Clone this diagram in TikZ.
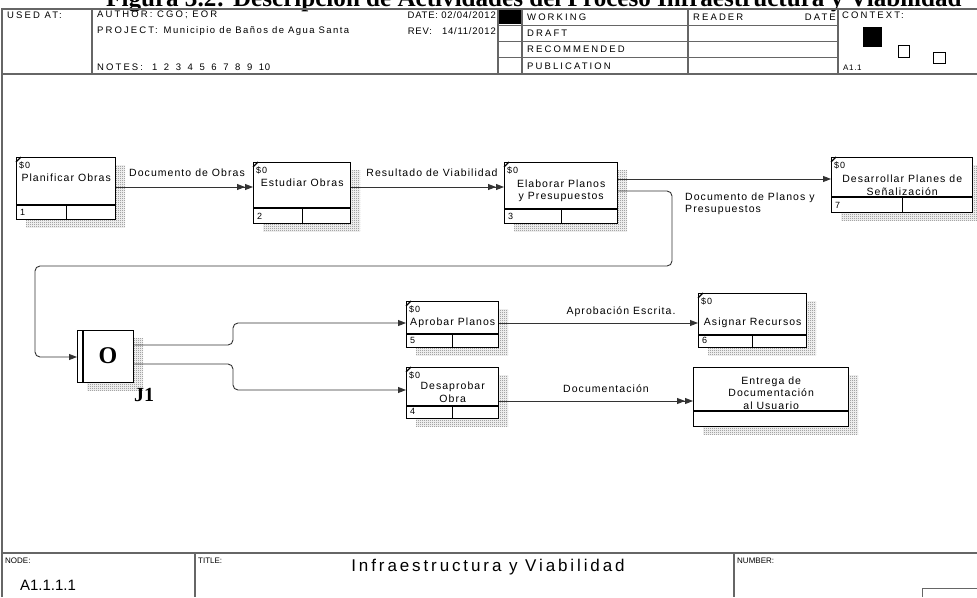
\documentclass[tikz,border=0pt]{standalone}
\usepackage{fontspec}
\setmainfont{Liberation Sans}
\newfontfamily\hdrfam{Liberation Sans}[LetterSpace=22]
\newfontfamily\hdrlow{Liberation Sans}[LetterSpace=15]
\newfontfamily\hdrnum{Liberation Sans}[LetterSpace=8]
\newfontfamily\boxfam{Liberation Sans}[LetterSpace=10]
\newfontfamily\titlefam{Liberation Sans}[LetterSpace=17]
\newfontfamily\serifbold{Liberation Serif Bold}
\usetikzlibrary{arrows.meta,patterns}

% fine 1pt checker used for the box shadows
\pgfdeclarepatternformonly{checker}{\pgfqpoint{0pt}{0pt}}{\pgfqpoint{2pt}{2pt}}{\pgfqpoint{2pt}{2pt}}{%
  \pgfpathrectangle{\pgfqpoint{0pt}{0pt}}{\pgfqpoint{1pt}{1pt}}%
  \pgfpathrectangle{\pgfqpoint{1pt}{1pt}}{\pgfqpoint{1pt}{1pt}}%
  \pgfusepath{fill}}

% gap between the note numbers
\newcommand\nsp{\hspace{6.6pt}}

\tikzset{
  frameline/.style={draw=black!60, line width=1.3pt},
  thinline/.style={draw=black!60, line width=1pt},
  actbox/.style={draw=black, line width=1.4pt, fill=white, inner sep=0pt},
  divline/.style={draw=black, line width=1.2pt},
  hatch/.style={pattern=checker, pattern color=black!55},
  flow/.style={draw=black!80, line width=0.9pt, -{Triangle[length=8pt,width=6pt]}},
  dflow/.style={draw=black!80, line width=0.9pt, -{Triangle[length=8pt,width=6pt]Triangle[length=8pt,width=6pt]}},
  boxtxt/.style={font=\boxfam\fontsize{10.5}{12.5}\selectfont, inner sep=0pt, align=center},
  cornertxt/.style={font=\boxfam\fontsize{9}{10}\selectfont, inner sep=0pt, anchor=west},
  hdr/.style={font=\hdrfam\fontsize{9.5}{11}\selectfont, inner sep=0pt, anchor=west},
  hdre/.style={hdr, anchor=east},
  ftlbl/.style={font=\fontsize{8}{9}\selectfont, inner sep=0pt, anchor=west},
}

% activity box: name, left, top, right, bottom, divider y, text y, text, number
\newcommand\actbox[9]{%
  \fill[hatch] (#2+10,#3+8) rectangle (#4+10,#5+8);
  \node[actbox, anchor=north west, minimum width=#4-#2, minimum height=#5-#3] (#1) at (#2,#3) {};
  \draw[divline] (#1.west |- 0,#6) -- (#1.east |- 0,#6);
  \draw[divline] (#1.south |- 0,#6) -- (#1.south);
  \draw[divline] (#1.north west) ++(0,5) -- ++(5,-5);
  \node[boxtxt] (#1-t) at (#1.center |- 0,#7) {#8};
  \node[cornertxt] (#1-c) at (#2+3,#3+8) {\$0};
  \node[cornertxt] (#1-n) at (#2+4,#5-7) {#9};
}

\begin{document}
\begin{tikzpicture}[x=1pt,y=-1pt]
\useasboundingbox (0,0) rectangle (977,597);

% caption running off the top edge of the sheet
\node[font=\serifbold\fontsize{25.1}{28}\selectfont, anchor=base west, inner sep=0pt] (caption) at (106,6)
  {Figura 3.2: Descripción de Actividades del Proceso Infraestructura y Viabilidad};

% ---- header block
\draw[frameline] (2,597) -- (2,9) -- (977,9);
\draw[frameline] (2,74) -- (977,74);
\foreach \x in {92,498,522,688,838} \draw[frameline] (\x,9) -- (\x,74);
\foreach \y in {25,41,57} \draw[thinline] (498,\y) -- (838,\y);
\fill (499,10) rectangle (521,24);

\node[hdr] (usedat) at (7,15) {USED AT:};
\node[hdr] (author) at (97,15) {AUTHOR: CGO; EOR};
\node[hdr] (project) at (97,31) {PROJECT:\hspace{6pt}{\hdrlow Municipio de Baños de Agua Santa}};
\node[hdr] (notes) at (97,67) {NOTES:\hspace{9pt}{\hdrnum 1\nsp 2\nsp 3\nsp 4\nsp 5\nsp 6\nsp 7\nsp 8\nsp 9\nsp 10}};
\node[hdre, font=\hdrnum\fontsize{9.5}{11}\selectfont] (date) at (496,15) {DATE: 02/04/2012};
\node[hdre, font=\hdrnum\fontsize{9.5}{11}\selectfont] (rev) at (496,31) {REV:\ \ \ 14/11/2012};
\node[hdr] (working) at (527,17) {WORKING};
\node[hdr] (draft) at (527,33) {DRAFT};
\node[hdr] (recom) at (527,49) {RECOMMENDED};
\node[hdr] (public) at (527,66) {PUBLICATION};
\node[hdr] (reader) at (693,17) {READER};
\node[hdre] (rdate) at (836,17) {DATE};
\node[hdr] (context) at (842,15) {CONTEXT:};
\node[hdr, font=\hdrnum\fontsize{8}{9}\selectfont] (ctxnode) at (843,68) {A1.1};
\fill (863,27) rectangle (882,47);
\draw[line width=0.8pt] (898,45) rectangle (909,57);
\draw[line width=0.8pt] (933,52) rectangle (945,63);

% ---- footer block
\draw[frameline] (2,553) -- (977,553);
\draw[frameline] (195,553) -- (195,597);
\draw[frameline] (734,553) -- (734,597);
\draw[thinline] (922,597) -- (922,588) -- (977,588);
\node[ftlbl] (nodelbl) at (5,561) {NODE:};
\node[font=\fontsize{15}{17}\selectfont, inner sep=0pt] (nodeval) at (48,585) {A1.1.1.1};
\node[ftlbl] (titlelbl) at (198,561) {TITLE:};
\node[font=\titlefam\fontsize{17}{19}\selectfont, inner sep=0pt] (titleval) at (488,567) {Infraestructura y Viabilidad};
\node[ftlbl] (numlbl) at (737,561) {NUMBER:};

% ---- activities
\actbox{plan}{16}{157}{115}{219}{205}{178}{Planificar Obras}{1}
\actbox{estud}{253}{162}{350}{223}{208}{183}{Estudiar Obras}{2}
\actbox{elab}{504}{162}{617}{223}{209}{191}{Elaborar Planos\\y Presupuestos}{3}
\actbox{senal}{831}{157}{972}{212}{197}{185}{Desarrollar Planes de\\Señalización}{7}
\actbox{aprob}{406}{301}{498}{347}{334}{323}{Aprobar Planos}{5}
\actbox{recur}{698}{293}{806}{347}{335}{323}{Asignar Recursos}{6}
\actbox{desap}{406}{367}{498}{418}{406}{392}{Desaprobar\\Obra}{4}

% delivery box (no cost/number cells)
\fill[hatch] (703,375) rectangle (858,434);
\node[actbox, anchor=north west, minimum width=155, minimum height=59] (entr) at (693,367) {};
\draw[divline] (entr.west |- 0,411) -- (entr.east |- 0,411);
\node[boxtxt] (entr-t) at (entr.center |- 0,393) {Entrega de\\Documentación\\al Usuario};

% junction J1
\fill[hatch] (87,338) rectangle (143,390);
\node[actbox, anchor=north west, minimum width=56, minimum height=52] (j1) at (77,330) {};
\draw[divline] (j1.north west) ++(6,0) -- ++(0,52);
\node[font=\serifbold\fontsize{24}{24}\selectfont, inner sep=0pt] (j1-o) at (108,356) {O};
\node[font=\serifbold\fontsize{20}{20}\selectfont, inner sep=0pt, anchor=west] (j1-l) at (134,395) {J1};

% ---- flows
\draw[dflow] (plan.east |- 0,187) -- (estud.west |- 0,187);
\draw[dflow] (estud.east |- 0,187) -- (elab.west |- 0,187);
\draw[flow] (elab.east |- 0,179) -- (senal.west |- 0,179);
\draw[flow, rounded corners=5pt] (elab.east |- 0,191) -- (672,191) -- (672,266) -- (35,266) -- (35,357) -- (j1.west |- 0,357);
\draw[flow, rounded corners=5pt] (j1.east |- 0,345) -- (233,345) -- (233,323) -- (aprob.west |- 0,323);
\draw[flow, rounded corners=5pt] (j1.east |- 0,364) -- (233,364) -- (233,390) -- (desap.west |- 0,390);
\draw[flow] (aprob.east |- 0,323) -- (recur.west |- 0,323);
\draw[dflow] (desap.east |- 0,401) -- (entr.west |- 0,401);

\node[boxtxt] (lbl-obras) at (187,173) {Documento de Obras};
\node[boxtxt] (lbl-viab) at (432,173) {Resultado de Viabilidad};
\node[boxtxt, anchor=west, align=left] (lbl-planos) at (685,204) {Documento de Planos y\\Presupuestos};
\node[boxtxt] (lbl-aprob) at (621,312) {Aprobación Escrita.};
\node[boxtxt] (lbl-doc) at (606,389) {Documentación};
\end{tikzpicture}
\end{document}
